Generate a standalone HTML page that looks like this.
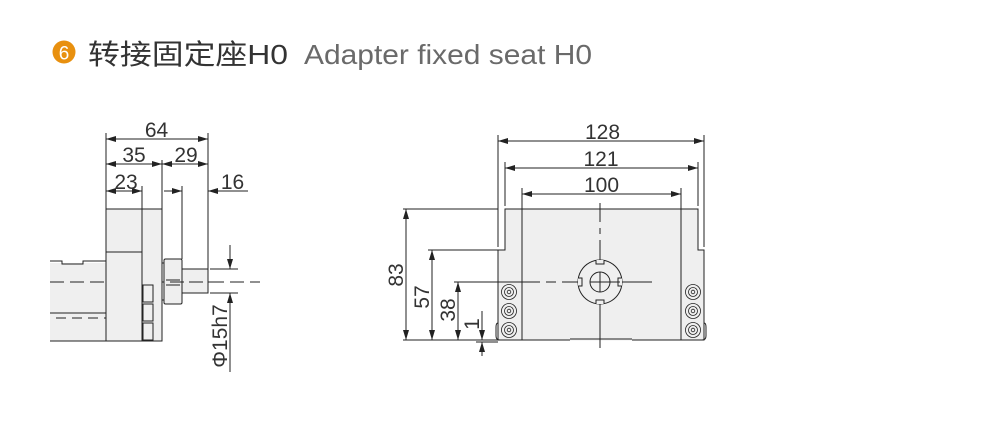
<!DOCTYPE html>
<html><head><meta charset="utf-8"><style>
html,body{margin:0;padding:0;background:#fff;width:994px;height:445px;overflow:hidden}
svg{display:block}
text{font-family:"Liberation Sans","Noto Sans CJK SC",sans-serif}
</style></head><body>
<svg width="994" height="445" viewBox="0 0 994 445" xmlns="http://www.w3.org/2000/svg">
<defs>
<marker id="a" viewBox="0 0 10 6" refX="10" refY="3" markerWidth="10" markerHeight="6" orient="auto-start-reverse" markerUnits="userSpaceOnUse"><path d="M0,0 L10,3 L0,6 z" fill="#222"/></marker>
</defs>
<!-- title -->
<circle cx="64" cy="52" r="11.5" fill="#e8900f"/>
<text x="64" y="59.5" font-size="19" fill="#fff" text-anchor="middle">6</text>
<text x="88" y="64" font-size="28" fill="#333" textLength="200" lengthAdjust="spacingAndGlyphs">转接固定座H0</text>
<text x="304" y="64" font-size="28" fill="#6a6a6a" textLength="288" lengthAdjust="spacingAndGlyphs">Adapter fixed seat H0</text>

<g stroke="#222" stroke-width="1" fill="none">
<!-- LEFT VIEW -->
<rect x="50" y="263" width="56" height="78" fill="#efefef" stroke="none"/>
<path d="M50,261 H62 V264 H83 V261 H106 M50,341 H106 M50,313 H106"/>
<path d="M50,282 H260" stroke-dasharray="14,6"/>
<path d="M56,318 H106" stroke-dasharray="10,6"/>
<rect x="106" y="209" width="36" height="132" fill="#efefef"/>
<path d="M106,252 H142"/>
<rect x="142" y="209" width="20" height="132" fill="#efefef"/>
<rect x="143" y="285" width="10" height="17" fill="#efefef"/>
<rect x="143" y="304" width="10" height="17" fill="#efefef"/>
<rect x="143" y="323" width="10" height="17" fill="#efefef"/>
<rect x="164" y="259" width="18" height="45" rx="1.5" fill="#efefef"/>
<path d="M162,263 H164 M162,300 H164 M166,280 H180 M166,285 H180"/>
<rect x="182" y="269" width="26" height="24" fill="#efefef"/>
<path d="M170,282 H226" stroke-dasharray="14,5"/>
<!-- left dims -->
<path d="M106,209 V133 M208,269 V133 M162,209 V160 M142,209 V186 M182,259 V186"/>
<path d="M106,139 H208" marker-start="url(#a)" marker-end="url(#a)"/>
<path d="M106,164 H162" marker-start="url(#a)" marker-end="url(#a)"/>
<path d="M162,164 H208" marker-start="url(#a)" marker-end="url(#a)"/>
<path d="M106,191 H142" marker-start="url(#a)" marker-end="url(#a)"/>
<path d="M164,191 H182" marker-end="url(#a)"/>
<path d="M248,191 H208" marker-end="url(#a)"/>
<path d="M210,269 H238 M210,293 H238"/>
<path d="M230,245 V269" marker-end="url(#a)"/>
<path d="M230,372 V293" marker-end="url(#a)"/>

<!-- RIGHT VIEW -->
<path d="M498,340 V250 H505 V209 H698 V250 H704 V340 Z" fill="#efefef"/>
<path d="M522,209 V340 M681,209 V340"/>
<path d="M498,323 q-2,0 -2,4 V336 q0,4 4,4 M704,323 q2,0 2,4 V336 q0,4 -4,4"/>
<path d="M570,340 H632" stroke="#efefef"/>
<path d="M570,339 H632"/>
<path d="M600,203 V222 M600,228 V234 M600,240 V340 M600,340 V348" />
<path d="M455,282 H540 M546,282 H556 M562,282 H652"/>
<path d="M600,260 a22,22 0 1,1 -0.01,0" fill="#efefef"/>
<path d="M596,260 v4 h8 v-4 M596,304 v-4 h8 v4 M578,278 h4 v8 h-4 M622,278 h-4 v8 h4" fill="#efefef"/>
<circle cx="600" cy="282" r="10"/>
<path d="M590,282 H620 M600,272 V292"/>
<g fill="#efefef" stroke-width="0.8">
<circle cx="509" cy="292" r="7.5"/><circle cx="509" cy="292" r="4.5"/><circle cx="509" cy="292" r="1.8"/>
<circle cx="509" cy="311" r="7.5"/><circle cx="509" cy="311" r="4.5"/><circle cx="509" cy="311" r="1.8"/>
<circle cx="509" cy="330" r="7.5"/><circle cx="509" cy="330" r="4.5"/><circle cx="509" cy="330" r="1.8"/>
<circle cx="693" cy="292" r="7.5"/><circle cx="693" cy="292" r="4.5"/><circle cx="693" cy="292" r="1.8"/>
<circle cx="693" cy="311" r="7.5"/><circle cx="693" cy="311" r="4.5"/><circle cx="693" cy="311" r="1.8"/>
<circle cx="693" cy="330" r="7.5"/><circle cx="693" cy="330" r="4.5"/><circle cx="693" cy="330" r="1.8"/>
</g>
<!-- right dims -->
<path d="M498,247 V135 M704,247 V135 M505,206 V162 M698,206 V162 M522,209 V188 M681,209 V188"/>
<path d="M498,141 H704" marker-start="url(#a)" marker-end="url(#a)"/>
<path d="M505,168 H698" marker-start="url(#a)" marker-end="url(#a)"/>
<path d="M522,194 H681" marker-start="url(#a)" marker-end="url(#a)"/>
<path d="M403,209 H498 M428,250 H498 M454,282 H498 M403,340 H498"/>
<path d="M406,209 V340" marker-start="url(#a)" marker-end="url(#a)"/>
<path d="M432,250 V340" marker-start="url(#a)" marker-end="url(#a)"/>
<path d="M458,282 V340" marker-start="url(#a)" marker-end="url(#a)"/>
<path d="M482,311 V340" marker-end="url(#a)"/>
<path d="M482,356 V342" marker-end="url(#a)"/>
<path d="M476,342 H498"/>
</g>
<g font-size="21" fill="#333" text-anchor="middle">
<text x="156.5" y="137">64</text>
<text x="134" y="162">35</text>
<text x="186" y="162">29</text>
<text x="126" y="189">23</text>
<text x="232.5" y="189">16</text>
<text x="602.5" y="139">128</text>
<text x="601" y="166">121</text>
<text x="601.5" y="192">100</text>
<text transform="translate(227,336) rotate(-90)">Φ15h7</text>
<text transform="translate(403,275) rotate(-90)">83</text>
<text transform="translate(429,297) rotate(-90)">57</text>
<text transform="translate(455,310) rotate(-90)">38</text>
<text transform="translate(479,324) rotate(-90)">1</text>
</g>
</svg>
</body></html>
